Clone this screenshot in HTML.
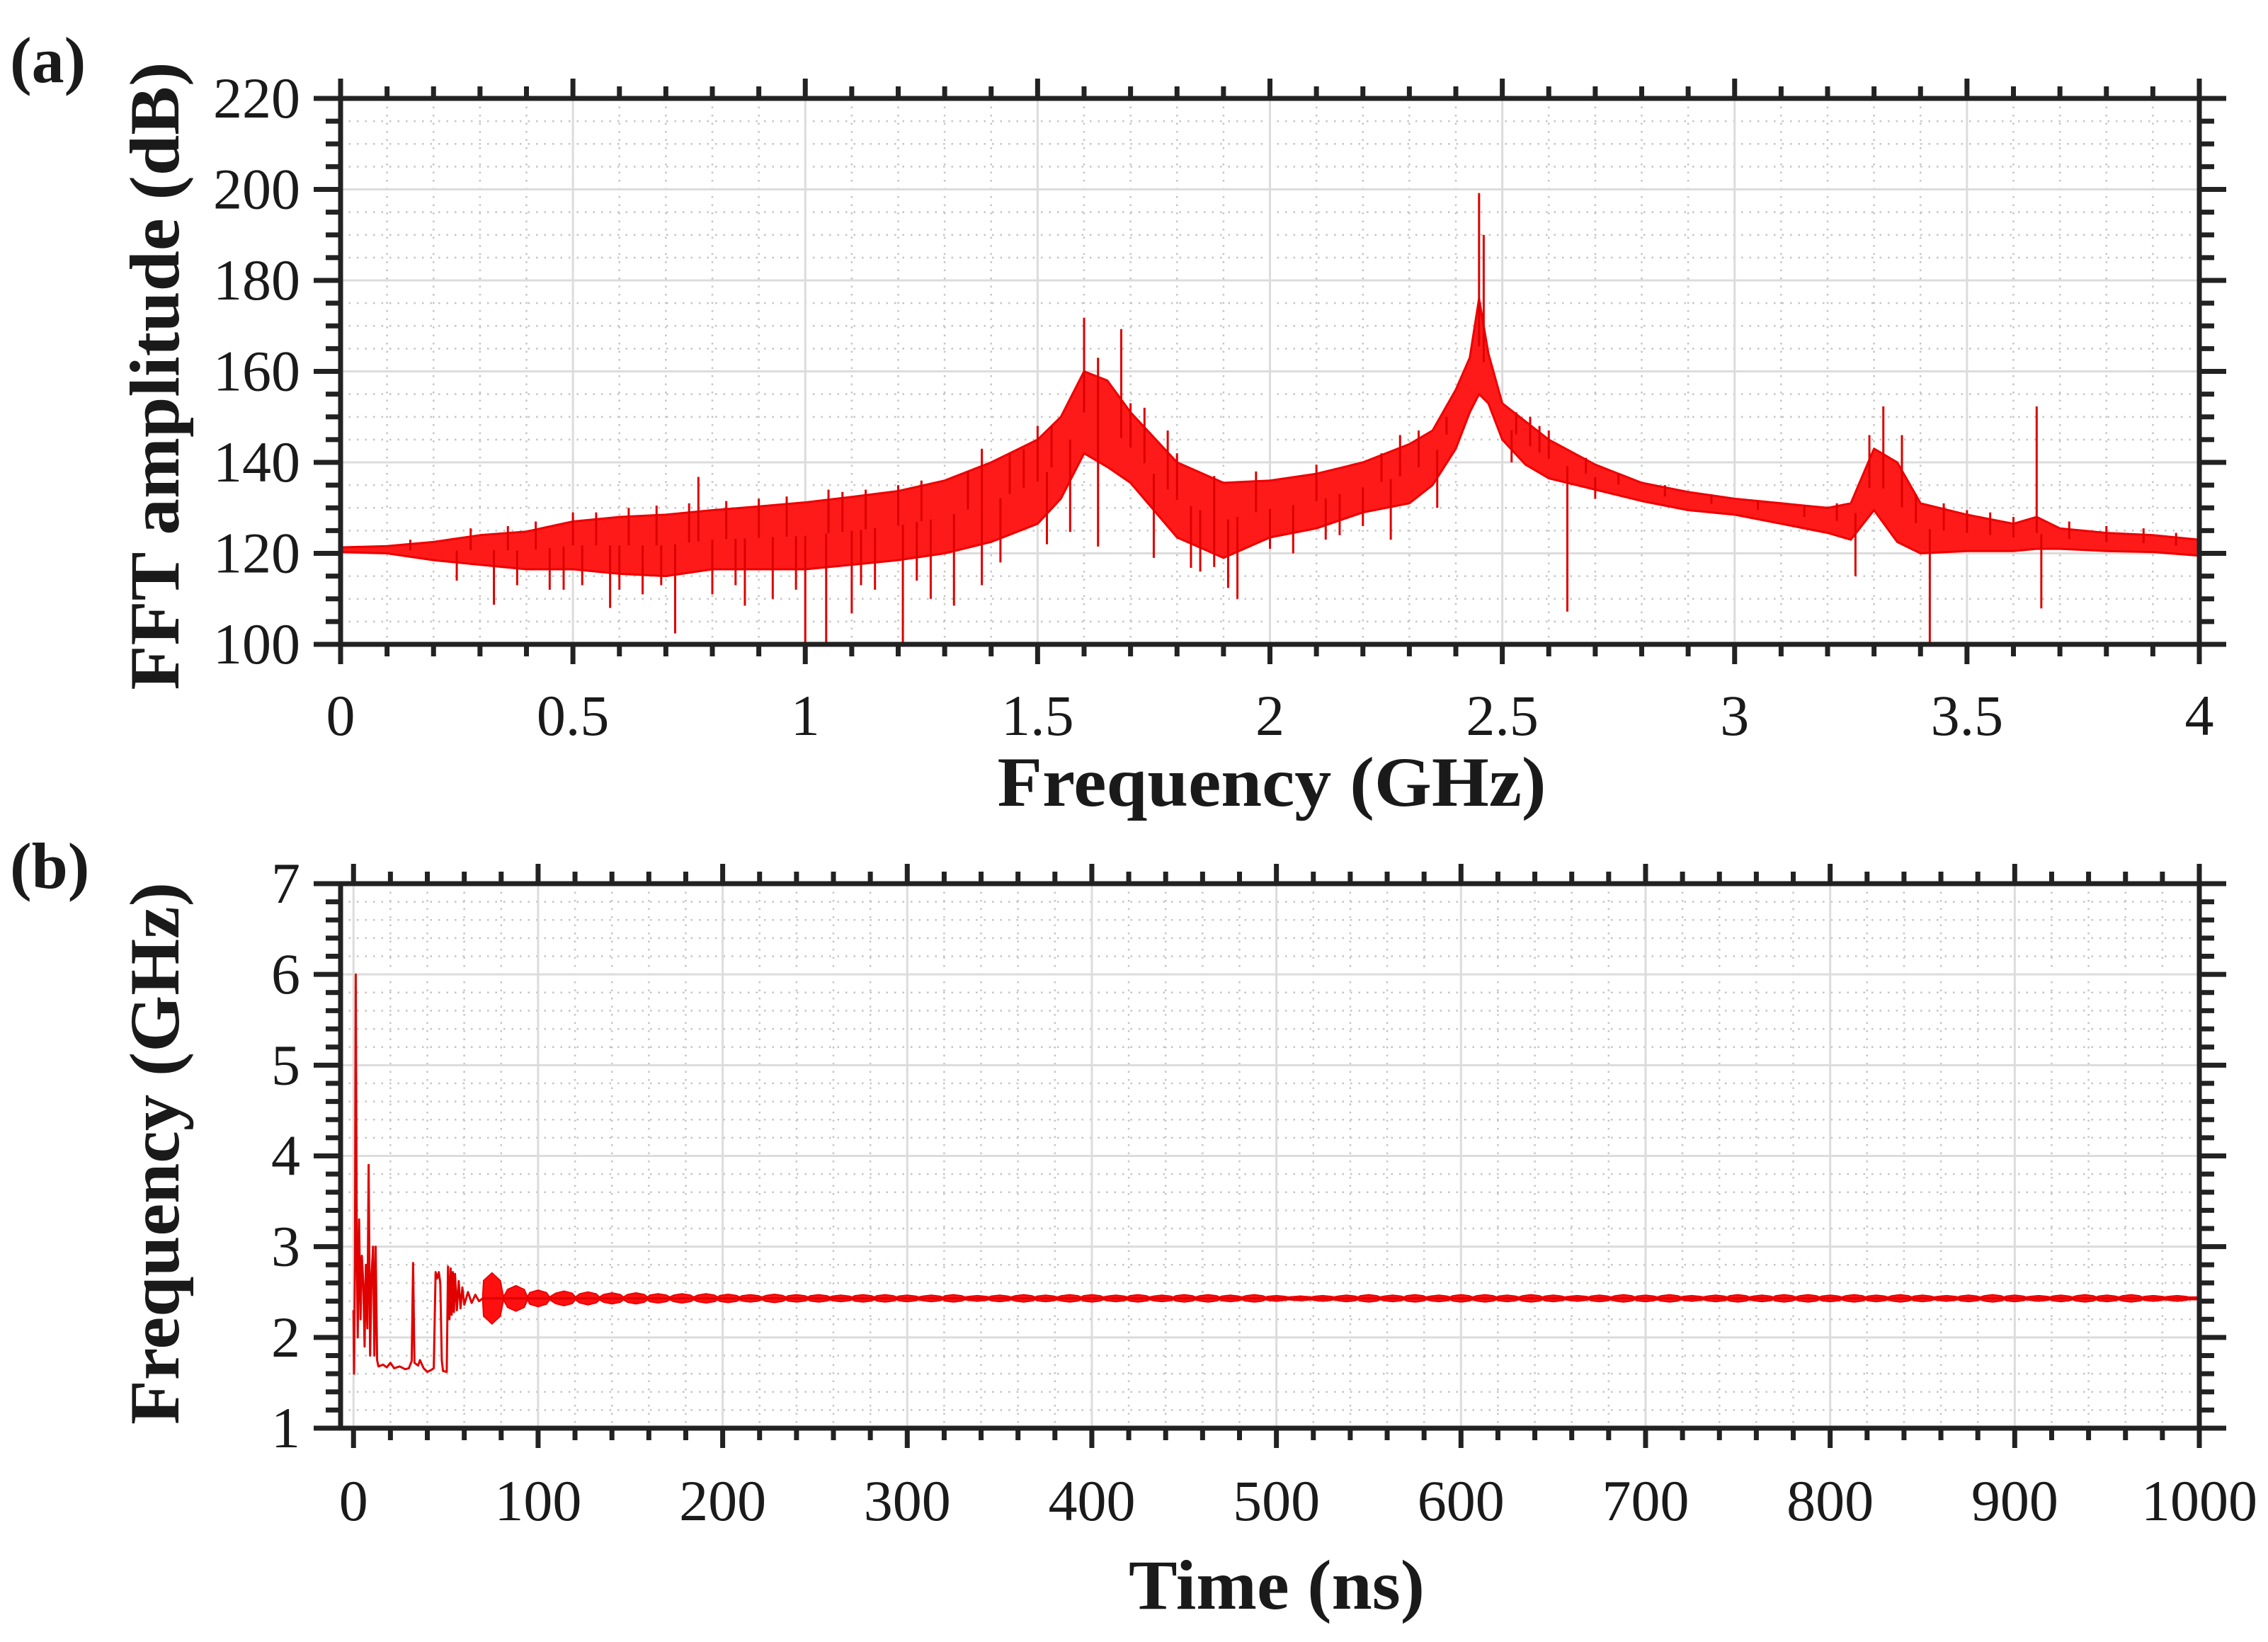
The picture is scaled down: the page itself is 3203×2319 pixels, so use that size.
<!DOCTYPE html>
<html><head><meta charset="utf-8"><style>
html,body{margin:0;padding:0;background:#fff;}
svg{display:block;}
text{font-family:"Liberation Serif",serif;fill:#1a1a1a;}
</style></head><body>
<svg id="fig" width="3203" height="2319" viewBox="0 0 3203 2319" xmlns="http://www.w3.org/2000/svg">
<rect width="3203" height="2319" fill="#fff"/>
<g id="gridA"></g>
<g id="gridB"></g>
<g id="seriesA"></g>
<g id="seriesB"></g>
<g id="axesA"></g>
<g id="axesB"></g>
<text x="14" y="116" font-size="92" font-weight="bold">(a)</text>
<text x="14" y="1254" font-size="92" font-weight="bold">(b)</text>
<text x="1796" y="1138" font-size="100" font-weight="bold" text-anchor="middle" textLength="775" lengthAdjust="spacingAndGlyphs">Frequency (GHz)</text>
<text transform="translate(252,531) rotate(-90)" font-size="100" font-weight="bold" text-anchor="middle" textLength="887" lengthAdjust="spacingAndGlyphs">FFT amplitude (dB)</text>
<text x="1803" y="2272" font-size="100" font-weight="bold" text-anchor="middle" textLength="418" lengthAdjust="spacingAndGlyphs">Time (ns)</text>
<text transform="translate(252,1629) rotate(-90)" font-size="100" font-weight="bold" text-anchor="middle" textLength="766" lengthAdjust="spacingAndGlyphs">Frequency (GHz)</text>
</svg>
<script>
// ---------- Panel (a) data: FFT spectrum envelope ----------
const freqA  = [0,0.1,0.2,0.3,0.4,0.5,0.6,0.7,0.8,0.9,1.0,1.1,1.2,1.3,1.4,1.5,1.55,1.6,1.65,1.7,1.8,1.9,2.0,2.1,2.2,2.3,2.35,2.4,2.43,2.45,2.47,2.5,2.55,2.6,2.7,2.8,2.9,3.0,3.1,3.2,3.25,3.3,3.35,3.4,3.5,3.6,3.65,3.7,3.8,3.9,4.0];
const upperA = [121.3,121.6,122.5,124,124.8,127,128,128.5,129.5,130.3,131.2,132.4,133.7,136,140,145,150,160,158,151,140,135.5,136,137.5,140,144,147,156,163,176,164,153,149,145,139.5,135.5,133.5,132,131,130,131,143,140,131,128.5,126.5,128,125.5,124.5,124,123];
const lowerA = [120.3,120,118.5,117.5,116.5,116.5,115.5,115,116.5,116.5,116.5,117.5,118.5,120,122.5,126.5,132,142,139,135.5,123.5,119,123.5,125.5,129,131,135,143,151,155,153,145,139.5,136.5,134,131.5,129.5,128.5,126.5,124.5,123,129.5,122.5,120,120.5,120.5,121,121,120.5,120.3,119.5];
const spikeFreqA = [1.60,1.68,0.77,2.45,2.46,3.32,3.36,3.65,1.63,0.5,0.62,0.9,1.05,1.2,1.38,1.5,1.73,1.78,2.32,2.58,2.6,0.33,0.58,0.72,0.87,1.0,1.045,1.1,1.21,1.32,1.57,1.63,1.83,1.91,1.93,2.26,2.64,3.26,3.42,3.66,0.45,0.52,0.65,0.8,0.93,1.15,1.27,1.38,0.25,1.75,1.85,2.05,2.2,2.15,
  0.15,0.28,0.36,0.42,0.55,0.68,0.75,0.83,0.96,1.08,1.13,1.25,1.35,1.44,1.47,1.53,1.7,1.8,1.88,1.97,2.1,2.24,2.28,2.38,2.53,2.56,2.68,2.75,2.85,2.95,3.05,3.15,3.22,3.29,3.39,3.45,3.5,3.55,3.6,3.72,3.8,3.88,3.95,
  0.38,0.48,0.6,0.69,0.85,0.98,1.12,1.24,1.42,1.52,1.88,2.0,2.12,2.36,2.52,2.7];
const spikeValA  = [171.8,169.3,136.8,199.2,190,152.3,146,152.3,163,129,130,132,134,135,143,148,152,147,147,148,147,108.7,108,102.4,108.5,100,100,106.8,100,108.5,124.7,121.5,116.8,112.4,110,123,107.2,115,100,107.9,112,113,111,111,110,112,110,113,114,119,116,120,126,124,
  123,125.5,126,127,129,130.5,131,131.5,132.5,133.5,134,136,138,142,143,148,153,142,137,138,139.5,142,146,150,151,150,141,137.5,135,133,131.5,130.5,131,146,133,131,129.5,129,128,127,126,125.5,124.5,
  113,112,112,113,113,112,113,114,118,122,117,121,123,130,140,132];
const xTicksA = [0,0.5,1,1.5,2,2.5,3,3.5,4];
const xTickLabelsA = ["0","0.5","1","1.5","2","2.5","3","3.5","4"];
const yTicksA = [100,120,140,160,180,200,220];
const yTickLabelsA = ["100","120","140","160","180","200","220"];

// ---------- Panel (b) data: instantaneous frequency vs time ----------
const earlyT = [0,0.3,0.8,1.2,1.8,2.3,3.0,3.8,4.5,5.3,6.0,6.7,7.5,8.2,9.0,9.8,10.6,11.3,12.0,12.8,13.5,16,18,20,22,25,28,30,31.5,32.3,33,35,36,38,40,42,43.5,44.5,45.3,46.2,47,47.8,48.5,50.5,51.2,52,52.6,53.2,53.8,54.4,55,56,57,58,59,60,62,64,66,68,70];
const earlyF = [2.3,1.6,2.8,6.0,3.0,2.0,3.3,2.2,2.9,2.6,1.9,2.8,2.1,3.9,1.8,2.7,3.0,1.8,3.0,1.75,1.68,1.7,1.67,1.72,1.66,1.68,1.65,1.66,1.74,2.82,1.72,1.69,1.75,1.66,1.62,1.64,1.66,2.72,2.65,2.72,2.6,1.75,1.63,1.62,2.78,2.2,2.76,2.25,2.72,2.28,2.7,2.3,2.62,2.32,2.55,2.36,2.5,2.38,2.47,2.4,2.43];
const burstT = [75,88,100,114,127,140,153,165,178,191,203,215,228,240,252,264,276,288,300,313,325,338,350,363,375,388,400,413,425,438,450,463,475,488,500,513,525,538,550,563,575,588,600,613,625,638,650,663,675,688,700,713,725,738,750,763,775,788,800,813,825,838,850,863,875,888,900,913,925,938,950,963,975,988];
const burstAmp = [0.28,0.14,0.09,0.08,0.07,0.06,0.06,0.05,0.05,0.05,0.045,0.04,0.045,0.04,0.04,0.035,0.04,0.04,0.035,0.035,0.04,0.03,0.035,0.04,0.035,0.04,0.04,0.035,0.04,0.035,0.04,0.04,0.035,0.04,0.03,0.025,0.03,0.035,0.04,0.035,0.04,0.035,0.04,0.04,0.035,0.04,0.035,0.03,0.035,0.04,0.035,0.04,0.03,0.035,0.04,0.035,0.04,0.04,0.035,0.04,0.035,0.04,0.035,0.03,0.035,0.04,0.035,0.03,0.035,0.04,0.035,0.04,0.03,0.03];
const steadyF = [2.43];
const neckAmp = [0.014];
const xTicksB = [0,100,200,300,400,500,600,700,800,900,1000];
const xTickLabelsB = ["0","100","200","300","400","500","600","700","800","900","1000"];
const yTicksB = [1,2,3,4,5,6,7];
const yTickLabelsB = ["1","2","3","4","5","6","7"];

const NS = "http://www.w3.org/2000/svg";
function mk(tag, attrs, parent){
  const e = document.createElementNS(NS, tag);
  for (const k in attrs) e.setAttribute(k, attrs[k]);
  parent.appendChild(e);
  return e;
}
const L = 481, R = 3106;
const A = {top:139, bot:910, x0:0, x1:4, y0:100, y1:220};
const B = {top:1248, bot:2017, x0:-7, x1:1000, y0:1, y1:7};
const xA = f => L + (f - A.x0) / (A.x1 - A.x0) * (R - L);
const yA = v => A.bot - (v - A.y0) / (A.y1 - A.y0) * (A.bot - A.top);
const xB = t => L + (t - B.x0) / (B.x1 - B.x0) * (R - L);
const yB = f => B.bot - (f - B.y0) / (B.y1 - B.y0) * (B.bot - B.top);

function grid(g, xs, ys, minorXs, minorYs, xf, yf, top, bot){
  minorXs.forEach(v => { const l = mk('line', {x1:xf(v), x2:xf(v), y1:top, y2:bot, stroke:'#c4c4c4', 'stroke-width':2.5, 'stroke-dasharray':'2.5 9'}, g);
    
     });
  minorYs.forEach(v => { const l = mk('line', {x1:L, x2:R, y1:yf(v), y2:yf(v), stroke:'#c4c4c4', 'stroke-width':2.5, 'stroke-dasharray':'2.5 9'}, g);
    
     });
  xs.forEach(v => { const l = mk('line', {x1:xf(v), x2:xf(v), y1:top, y2:bot, stroke:'#dcdcdc', 'stroke-width':3}, g);
    
     });
  ys.forEach(v => { const l = mk('line', {x1:L, x2:R, y1:yf(v), y2:yf(v), stroke:'#dcdcdc', 'stroke-width':3}, g);
    
     });
}
function range(a, b, s){ const r=[]; for(let v=a; v<=b+1e-9; v+=s) r.push(+v.toFixed(6)); return r; }

const minorXA = range(0,4,0.1), minorYA = range(100,220,5);
const minorXB = range(0,1000,20), minorYB = range(1,7,0.2);
grid(document.getElementById('gridA'), xTicksA, yTicksA, minorXA, minorYA, xA, yA, A.top, A.bot);
grid(document.getElementById('gridB'), xTicksB, yTicksB, minorXB, minorYB, xB, yB, B.top, B.bot);

function axes(g, xf, yf, top, bot, xt, xtl, yt, ytl, minX, minY, xLabY, name){
  const col = '#222', sw = 7, maj = 28, mi = 17;
  const box = mk('rect', {x:L, y:top, width:R-L, height:bot-top, fill:'none', stroke:col, 'stroke-width':sw}, g);
  
  
  minX.forEach(v => {
    const len = xt.some(m => Math.abs(m - v) < 1e-6) ? maj : mi;
    mk('line', {x1:xf(v), x2:xf(v), y1:bot, y2:bot+len, stroke:col, 'stroke-width':sw}, g);
    mk('line', {x1:xf(v), x2:xf(v), y1:top, y2:top-len, stroke:col, 'stroke-width':sw}, g);
  });
  minY.forEach(v => {
    const len = yt.some(m => Math.abs(m - v) < 1e-6) ? maj+10 : mi+4;
    mk('line', {x1:L, x2:L-len, y1:yf(v), y2:yf(v), stroke:col, 'stroke-width':sw}, g);
    mk('line', {x1:R, x2:R+len, y1:yf(v), y2:yf(v), stroke:col, 'stroke-width':sw}, g);
  });
  xt.forEach((v,i) => {
    const t = mk('text', {x:xf(v), y:xLabY, 'font-size':82, 'text-anchor':'middle'}, g);
    t.textContent = xtl[i];
    
    
  });
  yt.forEach((v,i) => {
    const t = mk('text', {x:424, y:yf(v)+27, 'font-size':82, 'text-anchor':'end'}, g);
    t.textContent = ytl[i];
    
    
  });
}
axes(document.getElementById('axesA'), xA, yA, A.top, A.bot, xTicksA, xTickLabelsA, yTicksA, yTickLabelsA, minorXA, minorYA, 1038, 'panel-a');
axes(document.getElementById('axesB'), xB, yB, B.top, B.bot, xTicksB, xTickLabelsB, yTicksB, yTickLabelsB, minorXB, minorYB, 2147, 'panel-b');

// ---------- draw panel (a) ----------
const sA = document.getElementById('seriesA');
let pts = freqA.map((f,i) => xA(f).toFixed(1) + ',' + yA(upperA[i]).toFixed(1));
for (let i = freqA.length - 1; i >= 0; i--) pts.push(xA(freqA[i]).toFixed(1) + ',' + yA(lowerA[i]).toFixed(1));
const band = mk('polygon', {points: pts.join(' '), fill:'#ff1a1a', stroke:'#ee0000', 'stroke-width':3, 'stroke-linejoin':'round'}, sA);


function envMid(f){
  for (let i = 0; i < freqA.length - 1; i++){
    if (f >= freqA[i] && f <= freqA[i+1]){
      const u = (f - freqA[i]) / (freqA[i+1] - freqA[i]);
      const up = upperA[i] + u*(upperA[i+1]-upperA[i]);
      const lo = lowerA[i] + u*(lowerA[i+1]-lowerA[i]);
      return (up + lo) / 2;
    }
  }
  return 120;
}
spikeFreqA.forEach((f,i) => {
  const l = mk('line', {x1:xA(f), x2:xA(f), y1:yA(envMid(f)), y2:yA(spikeValA[i]), stroke:'#dd0000', 'stroke-width':3}, sA);
  
  
});

// ---------- draw panel (b) ----------
const sB = document.getElementById('seriesB');
const early = mk('polyline', {points: earlyT.map((t,i) => xB(t).toFixed(1)+','+yB(earlyF[i]).toFixed(1)).join(' '), fill:'none', stroke:'#e00000', 'stroke-width':3, 'stroke-linejoin':'round'}, sB);


const c = steadyF[0], n = neckAmp[0];
let up = [[70, c+n]], lo = [[70, c-n]];
burstT.forEach((t,i) => {
  const a = burstAmp[i];
  up.push([t-4.5, c+a*0.7],[t, c+a],[t+4.5, c+a*0.7],[t+6.25, c+n]);
  lo.push([t-4.5, c-a*0.7],[t, c-a],[t+4.5, c-a*0.7],[t+6.25, c-n]);
});
up.push([1000, c+n]); lo.push([1000, c-n]);
const bp = up.map(p => xB(p[0]).toFixed(1)+','+yB(p[1]).toFixed(1)).concat(lo.reverse().map(p => xB(p[0]).toFixed(1)+','+yB(p[1]).toFixed(1)));
const bb = mk('polygon', {points: bp.join(' '), fill:'#ff1010', stroke:'#ee0000', 'stroke-width':2}, sB);


const sl = mk('line', {x1:xB(70), x2:xB(1000), y1:yB(c), y2:yB(c), stroke:'#e00000', 'stroke-width':3}, sB);


</script>
</body></html>
